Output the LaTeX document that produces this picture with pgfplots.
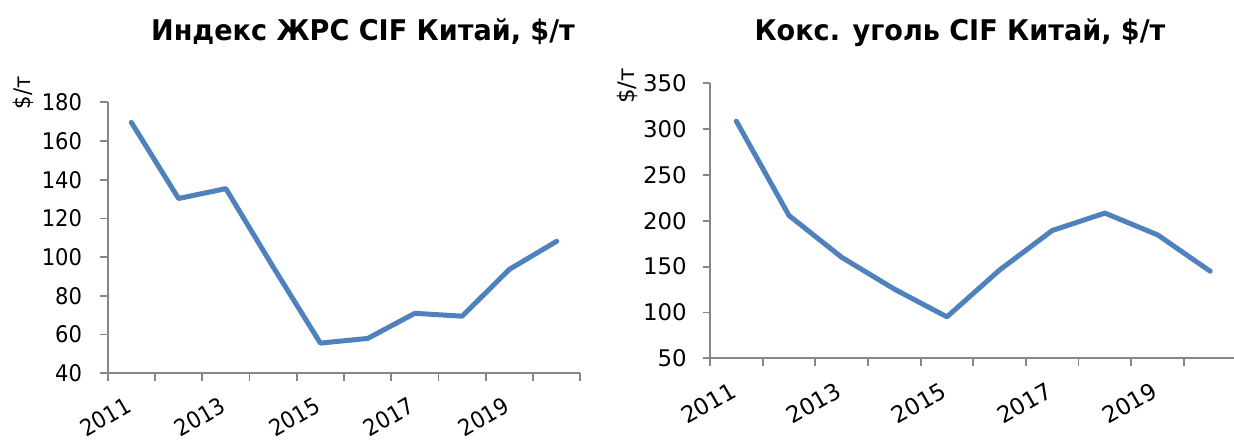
\documentclass[border=0pt]{standalone}
\usepackage{pgfplots}
\pgfplotsset{compat=1.18}
\usepackage{fontspec}
\setmainfont{DejaVu Sans}[FakeStretch=0.93]
\newfontfamily\titlefont{DejaVu Sans}[FakeStretch=0.95]
\newfontfamily\leftfont{DejaVu Sans}[FakeStretch=0.92]
\newfontfamily\rightfont{DejaVu Sans}[FakeStretch=1.0]
\definecolor{excelblue}{HTML}{4F81BD}
\definecolor{axisgray}{HTML}{868686}
\pgfplotsset{
  mystyle/.style={
    scale only axis,
    axis lines*=left,
    axis line style={draw=axisgray, line width=1.8pt, -},
    tick align=outside,
    major tick length=0pt,
    minor tick length=7.5pt,
    tick style={draw=axisgray, line width=1.8pt},
    xmin=0.5, xmax=10.5,
    xtick={1,3,5,7,9},
    xticklabels={2011,2013,2015,2017,2019},
    minor xtick={0.5,1.5,...,10.5},
    /pgf/number format/assume math mode=true,
    yticklabel style={anchor=east, inner sep=0pt},
    xticklabel style={xshift=-7pt, yshift=-22.5pt, rotate=30, anchor=north east, inner sep=0pt},
    clip=false,
  }
}
\begin{document}
\begin{tikzpicture}[x=1pt,y=1pt]
\useasboundingbox (0,0) rectangle (1234,441);
\begin{axis}[mystyle, at={(107.7pt,67.7pt)}, anchor=south west,
  width=472.6pt, height=271pt, ymin=40, ymax=180,
  ytick={40,60,...,180}, minor ytick={40,60,...,180},
  ticklabel style={font=\leftfont\fontsize{22.9}{27}\selectfont},
  yticklabel style={xshift=-25.5pt}]
\addplot[color=excelblue, line width=5pt, line join=round, line cap=round] coordinates {
(1,169.6) (2,130.3) (3,135.4) (4,95) (5,55.6) (6,58) (7,71) (8,69.5) (9,93.7) (10,108.2)};
\end{axis}
\begin{axis}[mystyle, at={(710pt,82.7pt)}, anchor=south west,
  width=526.5pt, height=275pt, ymin=50, ymax=350,
  ytick={50,100,...,350}, minor ytick={50,100,...,350},
  ticklabel style={font=\rightfont\fontsize{22.9}{27}\selectfont},
  yticklabel style={xshift=-23pt}]
\addplot[color=excelblue, line width=5pt, line join=round, line cap=round] coordinates {
(1,308.7) (2,205.8) (3,160.2) (4,125.5) (5,95.2) (6,146.3) (7,189.4) (8,208.4) (9,184.7) (10,145)};
\end{axis}
\node[anchor=base, font=\titlefont\bfseries\fontsize{28.5}{34}\selectfont, inner sep=0pt] at (363,400.3) {Индекс ЖРС CIF Китай, \$/т};
\node[anchor=base, font=\titlefont\bfseries\fontsize{28.5}{34}\selectfont, inner sep=0pt] at (960,400.3) {Кокс. уголь CIF Китай, \$/т};
\node[rotate=90, font=\leftfont\fontsize{22.9}{27}\selectfont, inner sep=0pt] at (23.5,348) {\$/т};
\node[rotate=90, font=\rightfont\fontsize{22.9}{27}\selectfont, inner sep=0pt] at (627,355) {\$/т};
\end{tikzpicture}
\end{document}
